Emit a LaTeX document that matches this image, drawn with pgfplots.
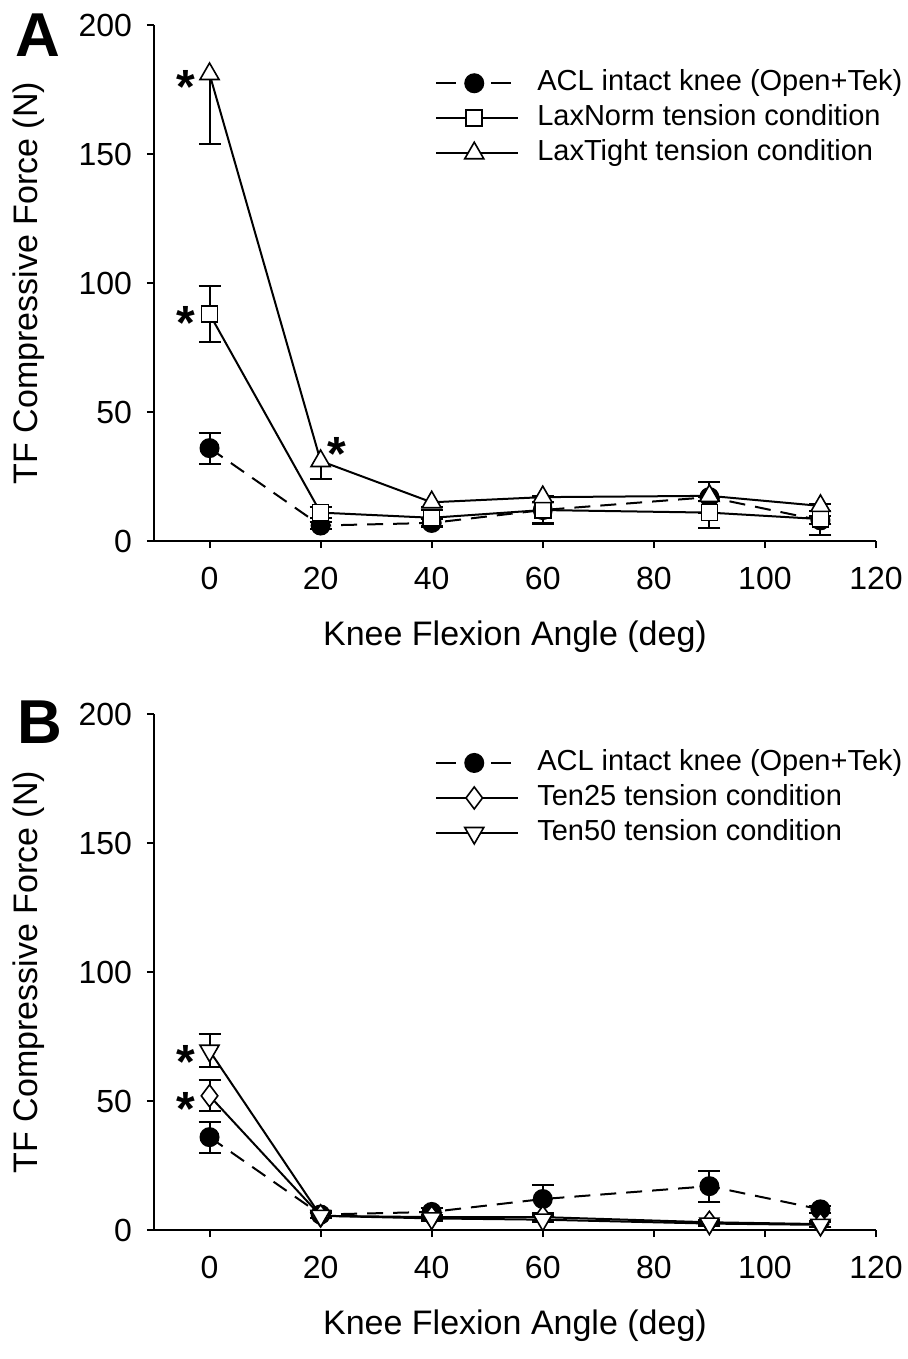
\documentclass[border=0pt]{standalone}
\usepackage{fontspec}
\setmainfont{Liberation Sans}
\usepackage{pgfplots}
\pgfplotsset{compat=1.18}

\pgfplotsset{
  kneeaxis/.style={
    scale only axis, width=361pt, height=258pt,
    xmin=-10, xmax=120, ymin=0, ymax=200,
    axis x line=bottom, axis y line=left,
    axis line style={-, line width=1pt},
    xtick={0,20,...,120}, ytick={0,50,...,200},
    tick align=outside, major tick length=3.5pt,
    every tick/.style={line width=1pt, black},
    ticklabel style={font=\fontsize{16}{19}\selectfont},
    xticklabel style={yshift=-6pt},
    yticklabel style={xshift=-4pt},
    /pgf/number format/assume math mode=true,
    xlabel={Knee Flexion Angle (deg)},
    ylabel={TF Compressive Force (N)},
    label style={font=\fontsize{17}{20}\selectfont},
    xlabel style={at={(axis description cs:0.5,-0.186)}, anchor=center},
    ylabel style={at={(axis description cs:-0.173,0.5)}, anchor=center},
    clip=false,
    legend cell align=left,
    legend style={draw=none, fill=none, anchor=north west, inner sep=0pt,
      font=\fontsize{14.5}{17}\selectfont, row sep=3pt, column sep=9pt,
      nodes={inner sep=0pt, text height=11pt, text depth=3.5pt}},
  },
  legimg/.style={legend image code/.code={
    \draw[mark repeat=2, mark phase=2, ##1] plot coordinates {(0pt,0pt) (19pt,0pt) (41pt,0pt)};}},
  aclimg/.style={legend image code/.code={
    \draw[mark repeat=2, mark phase=2, ##1, dash pattern=on 10pt off 17.5pt] plot coordinates {(0pt,0pt) (19pt,0pt) (37.5pt,0pt)};}},
  acl/.style={black, line width=1pt, dash pattern=on 8pt off 5pt, mark=*,
    mark size=4.5pt, mark options={solid, fill=black}, aclimg},
  openmk/.style={black, line width=1pt, solid, legimg},
  ebar/.style={error bars/.cd, y dir=#1, y explicit,
    error bar style={line width=1pt, solid},
    error mark options={rotate=90, mark size=5.5pt, line width=1pt, solid}},
  ebar/.default=both,
}
\tikzset{ast/.style={font=\fontsize{24}{24}\bfseries\selectfont, anchor=base, yshift=-14pt, inner sep=0pt}}

\begin{document}
\begin{tikzpicture}
% Panel A
\begin{axis}[kneeaxis, at={(0pt,0pt)}, anchor=south west,
  legend style={at={(axis description cs:0.389,0.916)}}]
\addplot+[acl, ebar] coordinates {
(0,36) +- (0,6) (20,6) +- (0,1.5) (40,7) +- (0,1.5)
(60,12) +- (0,5.5) (90,17) +- (0,6) (110,8) +- (0,1.5)
};
\addplot+[openmk, mark=square*, mark size=4pt, mark options={fill=white, line width=0.8pt}, ebar] coordinates {
(0,88) +- (0,11) (20,11) +- (0,2) (40,9) +- (0,3)
(60,12) +- (0,5) (90,11) +- (0,6) (110,8.5) +- (0,6)
};
\addplot+[openmk, mark=triangle*, mark size=5.5pt, mark options={fill=white, line width=0.8pt}, ebar=minus] coordinates {
(0,181) +- (0,27) (20,31) +- (0,7) (40,15) +- (0,2)
(60,17) +- (0,2) (90,17.5) +- (0,2) (110,13.6) +- (0,2)
};
\legend{ACL intact knee (Open+Tek), LaxNorm tension condition, LaxTight tension condition}
\node[ast] at (axis cs:-4.2,180.6) {*};
\node[ast] at (axis cs:-4.2,89) {*};
\node[ast] at (axis cs:23,38) {*};
\end{axis}
\node[anchor=north west, inner sep=0pt, font=\fontsize{31}{31}\bfseries\selectfont] at (-69.5pt,264pt) {A};

% Panel B
\begin{axis}[kneeaxis, at={(0pt,-344.5pt)}, anchor=south west,
  legend style={at={(axis description cs:0.389,0.934)}}]
\addplot+[acl, ebar] coordinates {
(0,36) +- (0,6) (20,6) +- (0,1.5) (40,7) +- (0,1.5)
(60,12) +- (0,5.5) (90,17) +- (0,6) (110,8) +- (0,1.5)
};
\addplot+[openmk, mark=diamond*, mark size=5.5pt, mark options={fill=white, line width=0.8pt}, ebar] coordinates {
(0,52) +- (0,6) (20,5.5) +- (0,1) (40,5) +- (0,1)
(60,5) +- (0,1) (90,3) +- (0,1) (110,2.3) +- (0,1)
};
\addplot+[openmk, mark=triangle*, mark size=5.5pt, mark options={fill=white, line width=0.8pt, rotate=180}, ebar] coordinates {
(0,69.5) +- (0,6.5) (20,5.5) +- (0,1) (40,4.5) +- (0,1)
(60,4) +- (0,1) (90,2.5) +- (0,1) (110,2) +- (0,1)
};
\legend{ACL intact knee (Open+Tek), Ten25 tension condition, Ten50 tension condition}
\node[ast] at (axis cs:-4.2,69.5) {*};
\node[ast] at (axis cs:-4.2,51.5) {*};
\end{axis}
\node[anchor=north west, inner sep=0pt, font=\fontsize{31}{31}\bfseries\selectfont] at (-68.5pt,-79.5pt) {B};

\pgfresetboundingbox
\path[use as bounding box] (-77pt,-409pt) rectangle (377pt,270.5pt);
\end{tikzpicture}
\end{document}
